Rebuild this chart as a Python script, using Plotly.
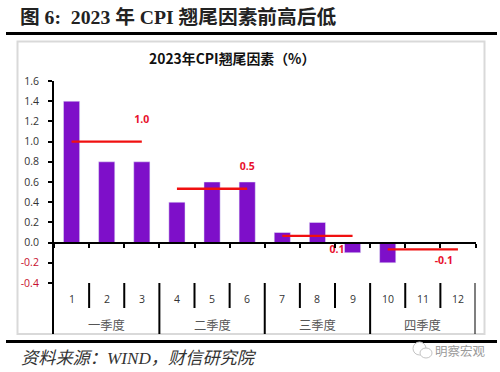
import plotly.graph_objects as go

months = list(range(1, 13))
month_labels = [str(m) for m in months]
values = [1.4, 0.8, 0.8, 0.4, 0.6, 0.6, 0.1, 0.2, -0.1, -0.2, 0.0, 0.0]
quarters = ["一季度", "二季度", "三季度", "四季度"]
quarter_centers = [2, 5, 8, 11]
avg_x = [[1, 3], [4, 6], [7, 9], [10, 12]]
avg_y = [[1.0, 1.0], [0.533, 0.533], [0.067, 0.067], [-0.067, -0.067]]
avg_labels = ["1.0", "0.5", "0.1", "-0.1"]
avg_label_x = [3, 6, 8.56, 11.6]
avg_label_y = [1.21, 0.74, -0.08, -0.185]
y_ticks = [1.6, 1.4, 1.2, 1.0, 0.8, 0.6, 0.4, 0.2, 0.0, -0.2, -0.4]

W, H = 500, 372
def px(v): return v / W
def py(v): return 1 - v / H

CJK = "Noto Sans CJK SC"
SERIF = "Liberation Serif, Noto Sans CJK SC"
GREY = "#333333"
RED = "#e8112d"

fig = go.Figure()
fig.add_bar(x=months, y=values, marker_color="#7e0fc9", width=0.46, showlegend=False)
for xs, ys in zip(avg_x, avg_y):
    fig.add_scatter(x=xs, y=ys, mode="lines", line=dict(color="#f01010", width=2.4), showlegend=False)
fig.add_scatter(x=avg_label_x, y=avg_label_y, mode="text", text=avg_labels,
                textfont=dict(family="Open Sans", size=10.5, color=RED, weight="bold"), showlegend=False)

def tick_text(v):
    s = f"{v:.1f}"
    return f'<span style="color:#c8102e">{s}</span>' if v < 0 else s

y_lo, y_hi = -0.905, 1.6
top_px, bot_px = 81, 334
fig.update_layout(
    width=W, height=H, margin=dict(l=0, r=0, t=0, b=0, autoexpand=False), autosize=False,
    paper_bgcolor="white", plot_bgcolor="white",
    xaxis=dict(domain=[px(54), px(475.5)], range=[0.5, 12.5], anchor="free",
               position=py(243), tickvals=[m + 0.5 for m in range(0, 13)], ticktext=[""] * 13,
               ticks="outside", ticklen=4, tickwidth=1.5, tickcolor="black",
               showline=True, linecolor="black", linewidth=2, showgrid=False, zeroline=False),
    yaxis=dict(domain=[py(bot_px), py(top_px)], range=[y_lo, y_hi], anchor="x",
               tickvals=y_ticks, ticktext=[tick_text(v) for v in y_ticks],
               ticks="outside", ticklen=4, tickwidth=1.5, tickcolor="black", ticklabelstandoff=7,
               showline=True, linecolor="black", linewidth=2, showgrid=False, zeroline=False,
               tickfont=dict(family="Open Sans", size=10.5, color=GREY)),
    font=dict(family=CJK),
)

# page furniture
fig.add_shape(type="rect", xref="paper", yref="paper", x0=px(17.5), x1=px(484.5), y0=py(334), y1=py(41.5),
              line=dict(color="#d9d9d9", width=2), fillcolor="rgba(0,0,0,0)", layer="below")
fig.add_shape(type="line", xref="paper", yref="paper", x0=px(6), x1=px(497), y0=py(33.5), y1=py(33.5),
              line=dict(color="black", width=3))
fig.add_shape(type="line", xref="paper", yref="paper", x0=px(6), x1=px(497), y0=py(341.5), y1=py(341.5),
              line=dict(color="black", width=3))

# watermark icon
fig.add_shape(type="circle", xref="paper", yref="paper", x0=px(413), x1=px(426), y0=py(355), y1=py(342),
              fillcolor="white", line=dict(color="#c4c4c4", width=1))
fig.add_shape(type="circle", xref="paper", yref="paper", x0=px(420), x1=px(432), y0=py(358), y1=py(348),
              fillcolor="white", line=dict(color="#c4c4c4", width=1))

# category separators
for b in range(1, 13):
    major = b % 3 == 0
    fig.add_shape(type="line", xref="x", yref="paper", x0=b + 0.5, x1=b + 0.5,
                  y0=py(334 if major else 308), y1=py(283), line=dict(color="black", width=2))

for m, t in zip(months, month_labels):
    fig.add_annotation(x=m, y=py(299), xref="x", yref="paper", xanchor="center", yanchor="middle",
                       text=t, showarrow=False, font=dict(family="Open Sans", size=10.5, color=GREY))
for c, t in zip(quarter_centers, quarters):
    fig.add_annotation(x=c, y=py(325), xref="x", yref="paper", xanchor="center", yanchor="middle",
                       text=t, showarrow=False, font=dict(family=CJK, size=12.3, color="#555555"))

fig.add_annotation(x=px(232), y=py(58.5), xref="paper", yref="paper", xanchor="center", yanchor="middle",
                   text="2023年CPI翘尾因素（%）",
                   showarrow=False, font=dict(family=CJK, size=13.9, color="#111111", weight="bold"))
fig.add_annotation(x=px(18), y=py(17.5), xref="paper", yref="paper", xanchor="left", yanchor="middle",
                   text="图 6:  2023 年 CPI 翘尾因素前高后低", showarrow=False,
                   font=dict(family=SERIF, size=19.7, color="#222222", weight="bold"))
fig.add_annotation(x=px(19), y=py(358), xref="paper", yref="paper", xanchor="left", yanchor="middle",
                   text="<i>资料来源：WIND，财信研究院</i>", showarrow=False,
                   font=dict(family=SERIF, size=17.2, color="#333333"))
fig.add_annotation(x=px(460), y=py(350), xref="paper", yref="paper", xanchor="center", yanchor="middle",
                   text="明察宏观", showarrow=False,
                   font=dict(family=CJK, size=12.5, color="#9a9a9a"))

fig.write_html("out.html", config={"displayModeBar": False},
               post_script="document.body.style.margin='0';")
